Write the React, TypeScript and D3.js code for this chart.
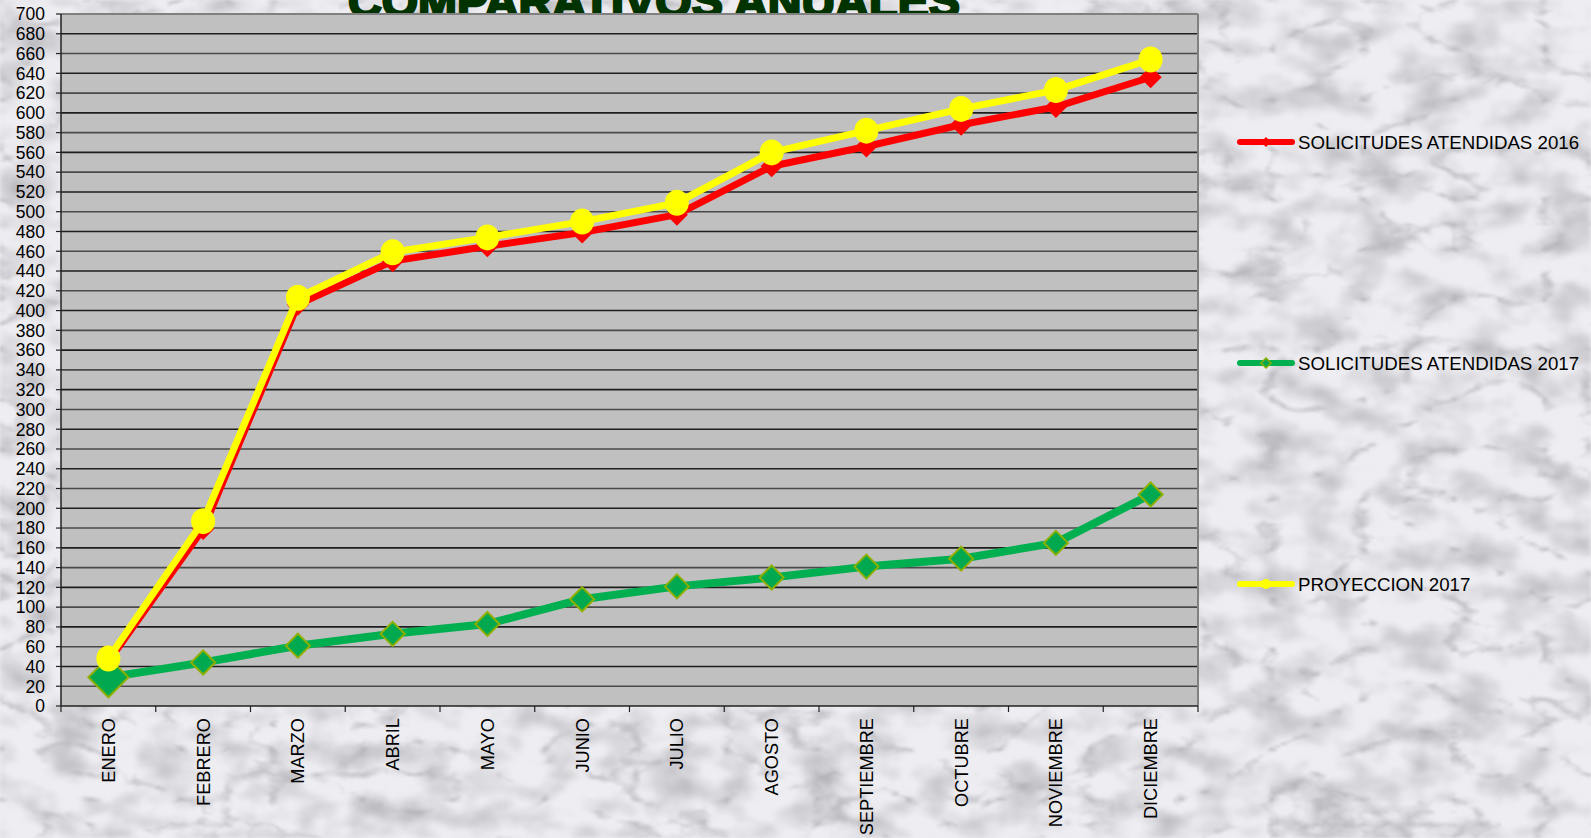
import React from "react";
import * as d3 from "d3";

// months on the x axis
const meses = [
  "ENERO", "FEBRERO", "MARZO", "ABRIL", "MAYO", "JUNIO",
  "JULIO", "AGOSTO", "SEPTIEMBRE", "OCTUBRE", "NOVIEMBRE", "DICIEMBRE",
];

// values
const atendidas2016 = [45, 179, 406, 450, 465, 479, 497, 546, 566, 588, 606, 636];
const atendidas2017 = [29, 44, 61, 73, 83, 108, 121, 130, 141, 149, 165, 214];
const proyeccion2017 = [48, 187, 413, 459, 474, 490, 509, 560, 582, 604, 623, 654];

const yTicks = d3.range(0, 701, 20);

const titulo = "COMPARATIVOS ANUALES";
const leyenda = [
  "SOLICITUDES ATENDIDAS 2016",
  "SOLICITUDES ATENDIDAS 2017",
  "PROYECCION 2017",
];

const W = 1591;
const H = 838;
const m = { left: 61, right: 1198, top: 14, bottom: 706 };
const FONT = "'Liberation Sans', Arial, sans-serif";

const diamond = (cx: number, cy: number, r: number) =>
  `M${cx},${cy - r}L${cx + r},${cy}L${cx},${cy + r}L${cx - r},${cy}Z`;

export default function App() {
  const x = d3.scaleBand<string>().domain(meses).range([m.left, m.right]);
  const y = d3.scaleLinear().domain([0, 700]).range([m.bottom, m.top]);
  const cx = (i: number) => (x(meses[i]) ?? 0) + x.bandwidth() / 2;

  const line = d3
    .line<number>()
    .x((_, i) => cx(i))
    .y((d) => y(d));

  const legendY = [142, 363, 584];

  return (
    <div style={{ position: "absolute", left: 0, top: 0 }}>
      <svg width={W} height={H} style={{ display: "block" }}>
        <defs>
          <filter id="marble" x="0" y="0" width="100%" height="100%">
            <feTurbulence type="turbulence" baseFrequency="0.011 0.02" numOctaves={5} seed={7} result="t" />
            <feColorMatrix
              in="t"
              type="matrix"
              values="0 0 0 0 0.38  0 0 0 0 0.38  0 0 0 0 0.42  -3.4 0 0 0 0.7"
            />
            <feGaussianBlur stdDeviation="1.2" />
          </filter>
          <filter id="speck" x="0" y="0" width="100%" height="100%">
            <feTurbulence type="fractalNoise" baseFrequency="0.02 0.035" numOctaves={4} seed={3} />
            <feColorMatrix
              type="matrix"
              values="0 0 0 0 0.45  0 0 0 0 0.45  0 0 0 0 0.48  1.9 0 0 0 -0.8"
            />
            <feGaussianBlur stdDeviation="2" />
          </filter>
        </defs>

        {/* marble background */}
        <rect x={0} y={0} width={W} height={H} fill="#eeeef2" />
        <rect x={0} y={0} width={W} height={H} filter="url(#speck)" />
        <rect x={0} y={0} width={W} height={H} filter="url(#marble)" />

        {/* title, cut off at the top as in the source */}
        <text
          x={654}
          y={17}
          textAnchor="middle"
          fontFamily={FONT}
          fontWeight="bold"
          fontSize={46}
          fill="#003300"
          stroke="#003300"
          strokeWidth={2.4}
          textLength={612}
          lengthAdjust="spacingAndGlyphs"
        >
          {titulo}
        </text>

        {/* plot area */}
        <rect
          x={m.left}
          y={m.top}
          width={m.right - m.left}
          height={m.bottom - m.top}
          fill="#c0c0c0"
        />
        {yTicks.slice(1, -1).map((t) => (
          <line
            key={t}
            x1={m.left}
            x2={m.right}
            y1={y(t)}
            y2={y(t)}
            stroke={t % 40 === 0 ? "#1e1e1e" : "#4a4a4a"}
            strokeWidth={1.6}
          />
        ))}
        <line x1={m.left} x2={m.right} y1={m.top} y2={m.top} stroke="#808080" strokeWidth={2} />
        <line x1={m.right} x2={m.right} y1={m.top} y2={m.bottom} stroke="#808080" strokeWidth={2} />

        {/* axes */}
        <line x1={m.left} x2={m.left} y1={m.top} y2={m.bottom} stroke="#222" strokeWidth={1.5} />
        <line x1={m.left} x2={m.right} y1={m.bottom} y2={m.bottom} stroke="#222" strokeWidth={1.5} />
        {yTicks.map((t) => (
          <g key={t}>
            <line x1={m.left - 5} x2={m.left} y1={y(t)} y2={y(t)} stroke="#222" strokeWidth={1.2} />
            <text
              x={m.left - 16}
              y={y(t)}
              dy="0.36em"
              textAnchor="end"
              fontFamily={FONT}
              fontSize={17.5}
              fill="#000"
            >
              {t}
            </text>
          </g>
        ))}
        {meses.map((mes, i) => (
          <g key={mes}>
            <line
              x1={(x(mes) ?? 0) + x.bandwidth()}
              x2={(x(mes) ?? 0) + x.bandwidth()}
              y1={m.bottom}
              y2={m.bottom + 6}
              stroke="#222"
              strokeWidth={1.2}
            />
            <text
              transform={`translate(${cx(i)},${m.bottom + 12}) rotate(-90)`}
              dy="0.36em"
              textAnchor="end"
              fontFamily={FONT}
              fontSize={18.2}
              fill="#000"
            >
              {mes}
            </text>
          </g>
        ))}
        <line x1={m.left} x2={m.left} y1={m.bottom} y2={m.bottom + 6} stroke="#222" strokeWidth={1.2} />

        {/* 2016 */}
        <path d={line(atendidas2016) ?? ""} fill="none" stroke="#ff0000" strokeWidth={7} strokeLinejoin="round" />
        {atendidas2016.map((v, i) => (
          <path key={i} d={diamond(cx(i), y(v), 11)} fill="#ff0000" />
        ))}

        {/* 2017 */}
        <path d={line(atendidas2017) ?? ""} fill="none" stroke="#00b050" strokeWidth={8} strokeLinejoin="round" />
        {atendidas2017.map((v, i) => (
          <path
            key={i}
            d={diamond(cx(i), y(v), i === 0 ? 20 : 12)}
            fill="#00a84f"
            stroke="#8db000"
            strokeWidth={2}
          />
        ))}

        {/* proyeccion */}
        <path d={line(proyeccion2017) ?? ""} fill="none" stroke="#ffff00" strokeWidth={7} strokeLinejoin="round" />
        {proyeccion2017.map((v, i) => (
          <ellipse key={i} cx={cx(i)} cy={y(v)} rx={12} ry={13} fill="#ffff00" />
        ))}

        {/* legend */}
        {leyenda.map((name, k) => {
          const ly = legendY[k];
          const color = ["#ff0000", "#00b050", "#ffff00"][k];
          return (
            <g key={name}>
              <line x1={1240} x2={1292} y1={ly} y2={ly} stroke={color} strokeWidth={6} strokeLinecap="round" />
              {k === 0 && <path d={diamond(1266, ly, 5)} fill="#ff0000" />}
              {k === 1 && <path d={diamond(1266, ly, 5)} fill="#00a84f" stroke="#8db000" strokeWidth={1.5} />}
              {k === 2 && <circle cx={1266} cy={ly} r={5} fill="#ffff00" />}
              <text x={1298} y={ly} dy="0.36em" fontFamily={FONT} fontSize={18.7} fill="#000">
                {name}
              </text>
            </g>
          );
        })}
      </svg>
    </div>
  );
}
